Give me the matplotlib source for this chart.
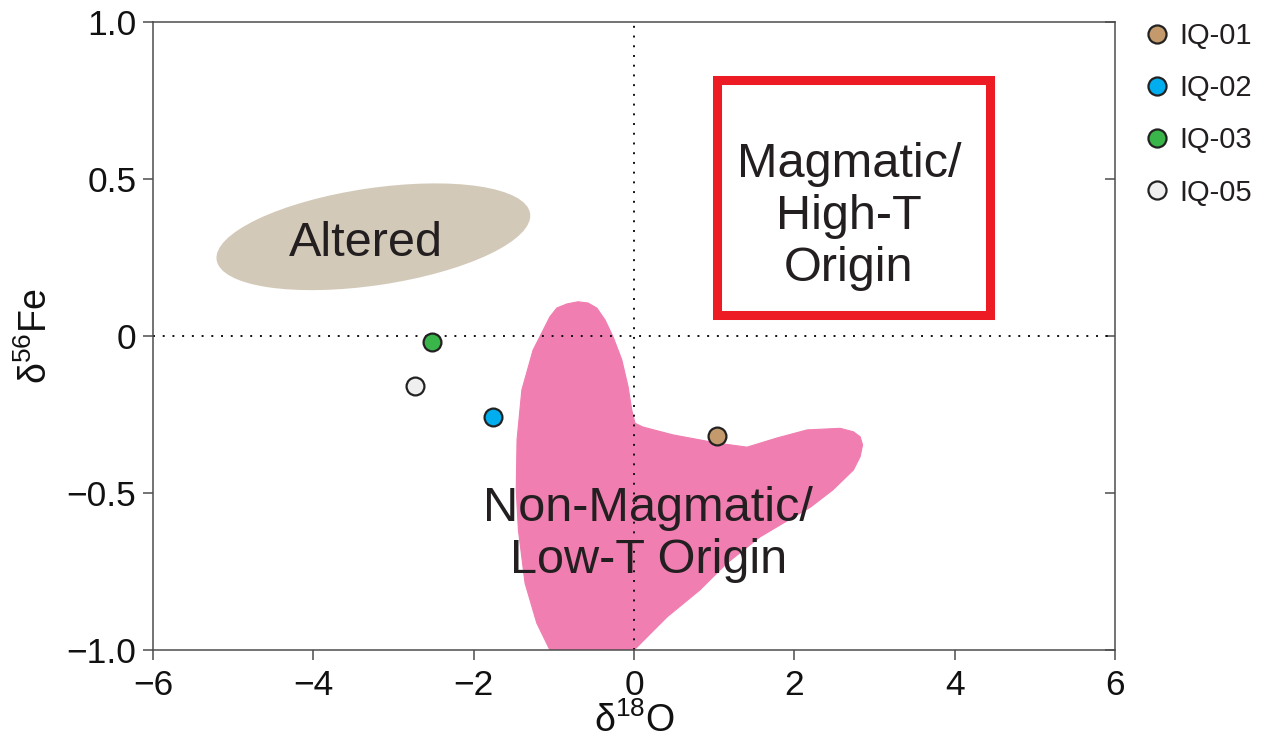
import numpy as np
import matplotlib
matplotlib.use("Agg")
import matplotlib.pyplot as plt
from matplotlib.patches import Polygon, Rectangle, Ellipse
from matplotlib.transforms import Affine2D
from matplotlib.lines import Line2D

plt.rcParams['font.family'] = ['Liberation Sans', 'DejaVu Sans']
plt.rcParams['mathtext.fontset'] = 'custom'
plt.rcParams['mathtext.rm'] = 'Liberation Sans'
plt.rcParams['mathtext.it'] = 'Liberation Sans'

# samples
sample_names = ['IQ-01', 'IQ-02', 'IQ-03', 'IQ-05']
d18O = [1.04, -1.76, -2.52, -2.73]
d56Fe = [-0.317, -0.257, -0.020, -0.158]
sample_colors = ['#C49A6C', '#00AEEF', '#39B54A', '#EEEFEE']

# non-magmatic / low-T field outline
field_x = [-0.964, -0.839, -0.699, -0.574, -0.465, -0.362, -0.262, -0.153, -0.075,
           -0.029, 0.012, 0.112, 0.486, 1.035, 1.41, 1.78, 2.16, 2.57, 2.735, 2.82,
           2.85, 2.82, 2.735, 2.48, 2.20, 1.86, 1.57, 1.16, 0.82, 0.41, 0.0,
           -1.05, -1.214, -1.36, -1.443, -1.47, -1.46, -1.40, -1.26, -1.05]
field_y = [0.089, 0.102, 0.109, 0.105, 0.089, 0.051, -0.003, -0.076, -0.161,
           -0.236, -0.278, -0.290, -0.315, -0.341, -0.354, -0.325, -0.299, -0.294,
           -0.305, -0.321, -0.347, -0.384, -0.427, -0.490, -0.545, -0.596, -0.640,
           -0.723, -0.809, -0.895, -1.0, -1.0, -0.914, -0.787, -0.618, -0.490,
           -0.331, -0.172, -0.045, 0.061]

# altered field: centre and two semi-axis vectors (data units)
altered_center = (-3.252, 0.316)
altered_major = (1.955, 0.074)
altered_minor = (0.089, -0.153)

# magmatic / high-T box corners
box_x = (1.035, 4.434)
box_y = (0.068, 0.814)

fig = plt.figure(figsize=(12.65, 7.45), dpi=100)
ax = fig.add_axes([0.121, 0.1275, 0.7605, 0.843])
ax.set_xlim(-6, 6)
ax.set_ylim(-1, 1)

ax.add_patch(Polygon(np.column_stack([field_x, field_y]), closed=True,
                     facecolor='#F07EB0', edgecolor='#F07EB0', lw=0.8,
                     joinstyle='round', zorder=1))

tr = Affine2D.from_values(altered_major[0], altered_major[1],
                          altered_minor[0], altered_minor[1],
                          altered_center[0], altered_center[1]) + ax.transData
ax.add_patch(Ellipse((0, 0), 2, 2, transform=tr, facecolor='#D3C9B8',
                     edgecolor='none', zorder=1))

ax.axhline(0, color='#111111', lw=1.4, ls=(0, (1, 4.0)), zorder=2)
ax.axvline(0, color='#111111', lw=1.4, ls=(0, (1, 4.0)), zorder=2)

ax.add_patch(Rectangle((box_x[0], box_y[0]), box_x[1] - box_x[0], box_y[1] - box_y[0],
                       facecolor='none', edgecolor='#ED1C24', lw=6.5, zorder=3))

txt = dict(fontsize=35, color='#231F20', ha='center', va='center', zorder=4,
           linespacing=1.2)
ax.text(2.68, 0.38, 'Magmatic/\nHigh-T\nOrigin', **txt)
ax.text(0.175, -0.632, 'Non-Magmatic/\nLow-T Origin', **txt)
ax.text(-3.34, 0.295, 'Altered', **txt)

for x, y, c in zip(d18O, d56Fe, sample_colors):
    ax.scatter(x, y, s=165, color=c, edgecolor='#222222', linewidth=1.6, zorder=5)

for s in ax.spines.values():
    s.set_color('#4D4D4D')
    s.set_linewidth(1.1)
ax.set_xticks([-6, -4, -2, 0, 2, 4, 6])
ax.set_yticks([-1.0, -0.5, 0, 0.5, 1.0])
ax.set_xticklabels(['\u22126', '\u22124', '\u22122', '0', '2', '4', '6'])
ax.set_yticklabels(['\u22121.0', '\u22120.5', '0', '0.5', '1.0'])
ax.tick_params(axis='both', labelsize=25.5, colors='#4D4D4D', labelcolor='#111111',
               length=7, width=1.1)
ax.tick_params(axis='y', pad=5, right=True)
ax.tick_params(axis='x', pad=7)
for t in ax.yaxis.get_ticklines()[1::2]:
    t.set_marker(0)  # right-side ticks point inward

ax.set_xlabel(r'$\mathregular{\delta^{18}O}$', fontsize=27, color='#111111', labelpad=0)
ax.set_ylabel(r'$\mathregular{\delta^{56}Fe}$', fontsize=27, color='#111111', labelpad=8)

handles = [Line2D([], [], ls='none', marker='o', markersize=13, markerfacecolor=c,
                  markeredgecolor='#222222', markeredgewidth=1.6) for c in sample_colors]
ax.legend(handles, sample_names, loc='upper left', bbox_to_anchor=(1.0285, 1.0),
          frameon=False, fontsize=21, handlelength=1.0, handletextpad=0.25,
          borderpad=0, borderaxespad=0, labelspacing=0.83, labelcolor='#231F20')

fig.savefig('out.png', dpi=100)
